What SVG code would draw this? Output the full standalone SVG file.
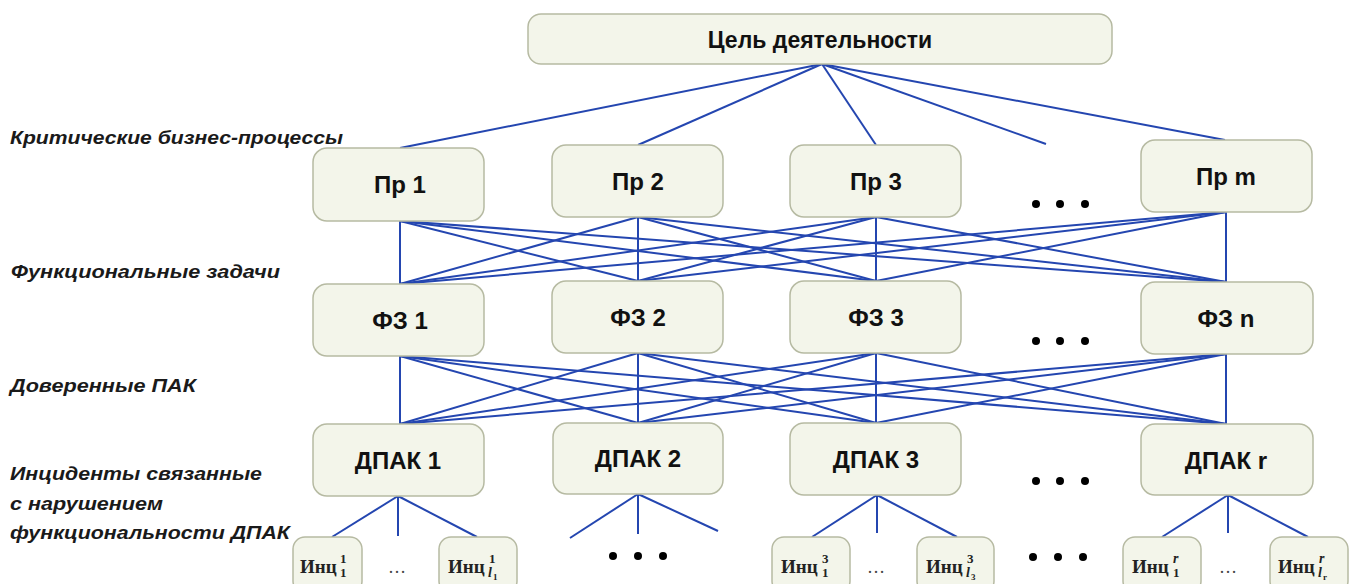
<svg xmlns="http://www.w3.org/2000/svg" width="1357" height="584" viewBox="0 0 1357 584">
<style>
.box{fill:#f3f5ea;stroke:#b6baa2;stroke-width:1.5}
.t{font-family:"Liberation Sans",Arial,sans-serif;font-weight:bold;fill:#111;text-anchor:middle}
.lab{font-family:"Liberation Sans",Arial,sans-serif;font-weight:bold;font-style:italic;fill:#1a1a1a;font-size:19px}
.c line{stroke:#2446b0;stroke-width:2;fill:none}
.i{font-family:"Liberation Serif","Times New Roman",serif;font-weight:bold;fill:#222;font-size:19px}
.s{font-family:"Liberation Serif","Times New Roman",serif;font-weight:bold;fill:#222;font-size:13px}
.si{font-family:"Liberation Serif","Times New Roman",serif;font-weight:bold;font-style:italic;fill:#222;font-size:14px}
.ss{font-family:"Liberation Serif","Times New Roman",serif;font-weight:bold;fill:#222;font-size:9px}
.dots{fill:#000}
.el{font-family:"Liberation Serif",serif;fill:#444;font-size:18px;text-anchor:middle}
</style>
<rect width="1357" height="584" fill="#fff"/>

<g id="labels">
<text class="lab" x="10" y="144" textLength="333" lengthAdjust="spacingAndGlyphs">Критические бизнес-процессы</text>
<text class="lab" x="11" y="278" textLength="269" lengthAdjust="spacingAndGlyphs">Функциональные задачи</text>
<text class="lab" x="10" y="392" textLength="186" lengthAdjust="spacingAndGlyphs">Доверенные ПАК</text>
<text class="lab" x="10" y="480" textLength="252" lengthAdjust="spacingAndGlyphs">Инциденты связанные</text>
<text class="lab" x="10" y="510" textLength="153" lengthAdjust="spacingAndGlyphs">с нарушением</text>
<text class="lab" x="10" y="539" textLength="280" lengthAdjust="spacingAndGlyphs">функциональности ДПАК</text>
</g>

<g id="connectors" class="c">
<line x1="822" y1="64" x2="400" y2="148"/>
<line x1="822" y1="64" x2="638" y2="145"/>
<line x1="822" y1="64" x2="876" y2="145"/>
<line x1="822" y1="64" x2="1046" y2="144"/>
<line x1="822" y1="64" x2="1225" y2="140"/>
<line x1="400" y1="221" x2="400" y2="284"/>
<line x1="400" y1="221" x2="638" y2="281"/>
<line x1="400" y1="221" x2="876" y2="281"/>
<line x1="400" y1="221" x2="1226" y2="282"/>
<line x1="638" y1="217" x2="400" y2="284"/>
<line x1="638" y1="217" x2="638" y2="281"/>
<line x1="638" y1="217" x2="876" y2="281"/>
<line x1="638" y1="217" x2="1226" y2="282"/>
<line x1="876" y1="217" x2="400" y2="284"/>
<line x1="876" y1="217" x2="638" y2="281"/>
<line x1="876" y1="217" x2="876" y2="281"/>
<line x1="876" y1="217" x2="1226" y2="282"/>
<line x1="1226" y1="212" x2="400" y2="284"/>
<line x1="1226" y1="212" x2="638" y2="281"/>
<line x1="1226" y1="212" x2="876" y2="281"/>
<line x1="1226" y1="212" x2="1226" y2="282"/>
<line x1="400" y1="356" x2="400" y2="424"/>
<line x1="400" y1="356" x2="638" y2="423"/>
<line x1="400" y1="356" x2="876" y2="423"/>
<line x1="400" y1="356" x2="1226" y2="424"/>
<line x1="638" y1="353" x2="400" y2="424"/>
<line x1="638" y1="353" x2="638" y2="423"/>
<line x1="638" y1="353" x2="876" y2="423"/>
<line x1="638" y1="353" x2="1226" y2="424"/>
<line x1="876" y1="353" x2="400" y2="424"/>
<line x1="876" y1="353" x2="638" y2="423"/>
<line x1="876" y1="353" x2="876" y2="423"/>
<line x1="876" y1="353" x2="1226" y2="424"/>
<line x1="1226" y1="354" x2="400" y2="424"/>
<line x1="1226" y1="354" x2="638" y2="423"/>
<line x1="1226" y1="354" x2="876" y2="423"/>
<line x1="1226" y1="354" x2="1226" y2="424"/>
<line x1="398" y1="496" x2="332" y2="537"/>
<line x1="398" y1="496" x2="398" y2="536"/>
<line x1="398" y1="496" x2="477" y2="537"/>
<line x1="638" y1="494" x2="570" y2="538"/>
<line x1="638" y1="494" x2="638" y2="534"/>
<line x1="638" y1="494" x2="718" y2="531"/>
<line x1="877" y1="495" x2="812" y2="537"/>
<line x1="877" y1="495" x2="877" y2="533"/>
<line x1="877" y1="495" x2="957" y2="537"/>
<line x1="1228" y1="495" x2="1162" y2="537"/>
<line x1="1228" y1="495" x2="1228" y2="533"/>
<line x1="1228" y1="495" x2="1308" y2="537"/>
</g>

<g id="goal"><rect class="box" x="528" y="14" width="584" height="50" rx="13"/><text class="t" x="820" y="48" font-size="23">Цель деятельности</text></g>

<g id="pr1"><rect class="box" x="313" y="148" width="171" height="73" rx="14"/><text class="t" x="400" y="193" font-size="24">Пр 1</text></g>
<g id="pr2"><rect class="box" x="552" y="145" width="171" height="72" rx="14"/><text class="t" x="638" y="190" font-size="24">Пр 2</text></g>
<g id="pr3"><rect class="box" x="790" y="145" width="171" height="72" rx="14"/><text class="t" x="876" y="190" font-size="24">Пр 3</text></g>
<g id="prm"><rect class="box" x="1141" y="140" width="171" height="72" rx="14"/><text class="t" x="1226" y="185" font-size="24">Пр m</text></g>

<g id="fz1"><rect class="box" x="313" y="284" width="171" height="72" rx="14"/><text class="t" x="400" y="329" font-size="24">ФЗ 1</text></g>
<g id="fz2"><rect class="box" x="552" y="281" width="171" height="72" rx="14"/><text class="t" x="638" y="326" font-size="24">ФЗ 2</text></g>
<g id="fz3"><rect class="box" x="790" y="281" width="171" height="72" rx="14"/><text class="t" x="876" y="326" font-size="24">ФЗ 3</text></g>
<g id="fzn"><rect class="box" x="1141" y="282" width="172" height="72" rx="14"/><text class="t" x="1226" y="327" font-size="24">ФЗ n</text></g>

<g id="dpak1"><rect class="box" x="313" y="424" width="171" height="72" rx="14"/><text class="t" x="398" y="469" font-size="24">ДПАК 1</text></g>
<g id="dpak2"><rect class="box" x="553" y="423" width="170" height="71" rx="14"/><text class="t" x="638" y="467" font-size="24">ДПАК 2</text></g>
<g id="dpak3"><rect class="box" x="790" y="423" width="171" height="72" rx="14"/><text class="t" x="876" y="468" font-size="24">ДПАК 3</text></g>
<g id="dpakr"><rect class="box" x="1141" y="424" width="172" height="71" rx="14"/><text class="t" x="1226" y="469" font-size="24">ДПАК r</text></g>

<g id="ellipses" class="dots">
<circle cx="1036" cy="204" r="4"/><circle cx="1060" cy="204" r="4"/><circle cx="1085" cy="204" r="4"/>
<circle cx="1036" cy="341" r="4"/><circle cx="1060" cy="341" r="4"/><circle cx="1085" cy="341" r="4"/>
<circle cx="1036" cy="481" r="4"/><circle cx="1060" cy="481" r="4"/><circle cx="1085" cy="481" r="4"/>
<circle cx="613" cy="556" r="4"/><circle cx="638" cy="556" r="4"/><circle cx="663" cy="556" r="4"/>
<circle cx="1033" cy="557" r="4"/><circle cx="1058" cy="557" r="4"/><circle cx="1083" cy="557" r="4"/>
</g>

<g id="inc1_1"><rect class="box" x="293" y="537" width="69" height="56" rx="12"/><text class="i" x="300" y="573">Инц</text><text class="s" x="340" y="563">1</text><text class="s" x="340" y="577">1</text></g>
<text class="el" x="397" y="573">…</text>
<g id="inc1_l"><rect class="box" x="439" y="537" width="78" height="56" rx="12"/><text class="i" x="448" y="573">Инц</text><text class="s" x="489" y="563">1</text><text class="si" x="488" y="577">l</text><text class="ss" x="493" y="580">1</text></g>

<g id="inc3_1"><rect class="box" x="772" y="537" width="78" height="56" rx="12"/><text class="i" x="781" y="573">Инц</text><text class="s" x="822" y="563">3</text><text class="s" x="822" y="577">1</text></g>
<text class="el" x="876" y="573">…</text>
<g id="inc3_l"><rect class="box" x="917" y="537" width="77" height="56" rx="12"/><text class="i" x="926" y="573">Инц</text><text class="s" x="967" y="563">3</text><text class="si" x="966" y="577">l</text><text class="ss" x="971" y="580">3</text></g>

<g id="incr_1"><rect class="box" x="1123" y="537" width="78" height="56" rx="12"/><text class="i" x="1132" y="573">Инц</text><text class="si" x="1173" y="563">r</text><text class="s" x="1173" y="577">1</text></g>
<text class="el" x="1228" y="573">…</text>
<g id="incr_l"><rect class="box" x="1270" y="537" width="78" height="56" rx="12"/><text class="i" x="1278" y="573">Инц</text><text class="si" x="1319" y="563">r</text><text class="si" x="1318" y="577">l</text><text class="ss" x="1323" y="580">r</text></g>
</svg>
